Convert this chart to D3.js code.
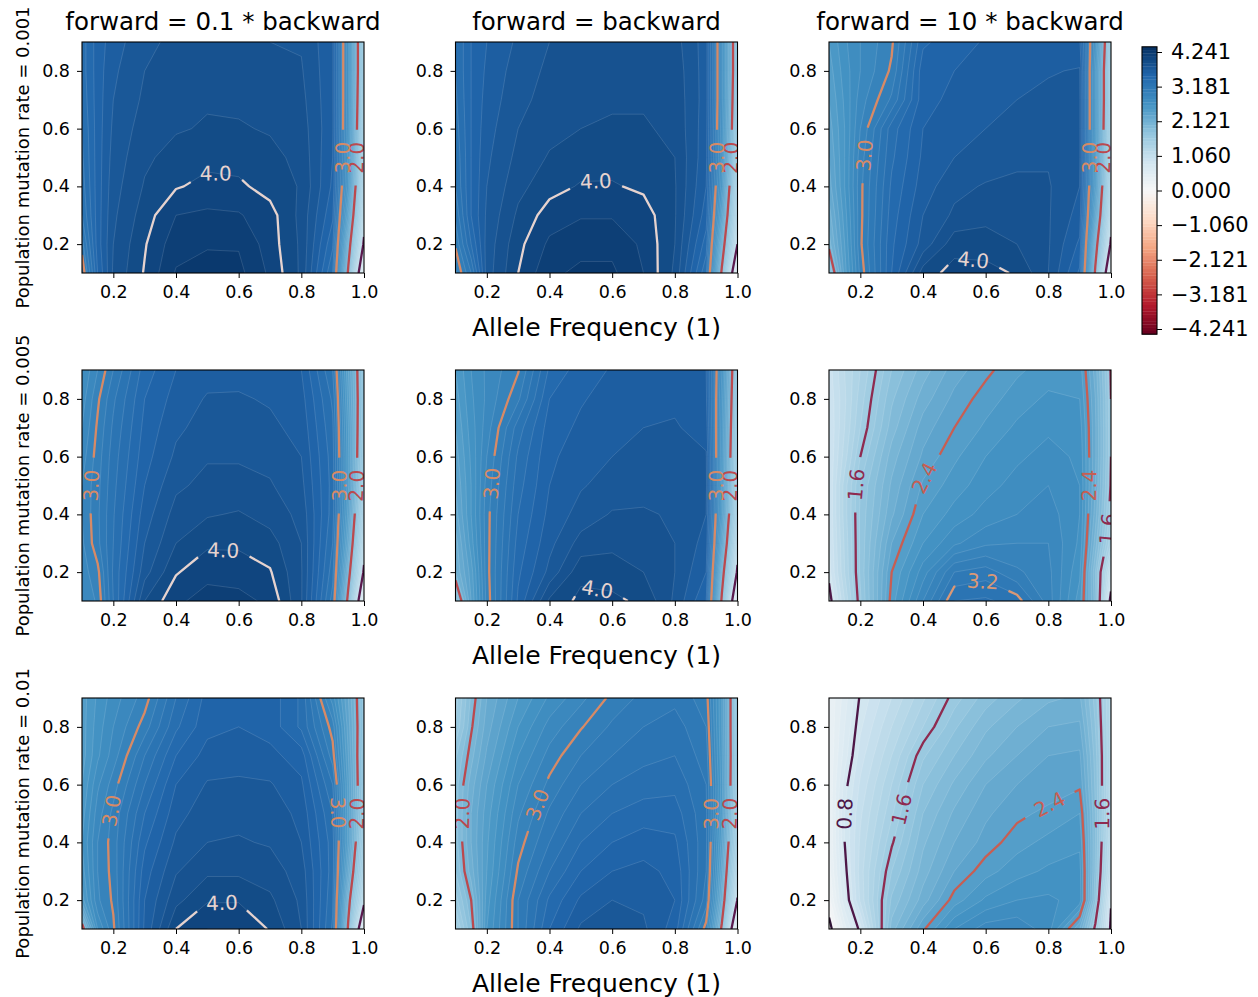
<!DOCTYPE html>
<html>
<head>
<meta charset="utf-8">
<script src="https://cdn.jsdelivr.net/npm/d3@7"></script>
<style>
body { margin: 0; background: #fff; }
text { font-family: "DejaVu Sans", sans-serif; }
</style>
</head>
<body>
<div id="chart"></div>
<script>
// simulation grid: allele frequency (columns) and mutation rate axis (rows, top to bottom)
var xs = [0.1, 0.15, 0.2, 0.3, 0.4, 0.5, 0.6, 0.7, 0.8, 0.9, 0.95, 1.0];
var ys = [0.9, 0.8, 0.7, 0.6, 0.5, 0.4, 0.3, 0.2, 0.1];

var colTitles = ["forward = 0.1 * backward", "forward = backward", "forward = 10 * backward"];
var rowLabels = ["Population mutation rate = 0.001", "Population mutation rate = 0.005", "Population mutation rate = 0.01"];
var xLabel = "Allele Frequency (1)";
var xTicks = [0.2, 0.4, 0.6, 0.8, 1.0];
var yTicks = [0.2, 0.4, 0.6, 0.8];
var cbTicks = [4.241, 3.181, 2.121, 1.060, 0.000, -1.060, -2.121, -3.181, -4.241];

// contour line levels of each panel (row by row)
var lineLevels = [
  [1, 2, 3, 4], [1, 2, 3, 4], [1, 2, 3, 4],
  [1, 2, 3, 4], [1, 2, 3, 4], [0.8, 1.6, 2.4, 3.2],
  [1, 2, 3, 4], [1, 2, 3], [0, 0.8, 1.6, 2.4]
];

// mu = 0.001
var z_001_f01 = [
  [3.35, 3.55, 3.65, 3.78, 3.82, 3.85, 3.85, 3.80, 3.79, 3.62, 2.70, 1.55],
  [3.35, 3.55, 3.68, 3.80, 3.84, 3.87, 3.86, 3.83, 3.81, 3.62, 2.70, 1.55],
  [3.33, 3.55, 3.70, 3.82, 3.86, 3.89, 3.88, 3.86, 3.83, 3.62, 2.70, 1.50],
  [3.30, 3.55, 3.72, 3.85, 3.89, 3.91, 3.91, 3.89, 3.85, 3.62, 2.68, 1.45],
  [3.28, 3.55, 3.74, 3.88, 3.94, 3.97, 3.96, 3.93, 3.87, 3.60, 2.65, 1.40],
  [3.25, 3.55, 3.76, 3.91, 3.99, 4.03, 4.02, 3.96, 3.89, 3.58, 2.60, 1.30],
  [3.20, 3.55, 3.78, 3.95, 4.10, 4.12, 4.11, 4.04, 3.87, 3.52, 2.40, 1.15],
  [3.06, 3.55, 3.80, 3.99, 4.16, 4.19, 4.19, 4.05, 3.88, 3.42, 2.15, 0.95],
  [2.90, 3.50, 3.82, 4.01, 4.21, 4.24, 4.23, 4.08, 3.88, 3.30, 1.95, 0.50]
];
var z_001_f1 = [
  [3.30, 3.50, 3.60, 3.72, 3.80, 3.84, 3.86, 3.86, 3.84, 3.65, 2.75, 1.70],
  [3.30, 3.50, 3.62, 3.75, 3.82, 3.86, 3.88, 3.88, 3.86, 3.65, 2.75, 1.70],
  [3.28, 3.50, 3.64, 3.77, 3.84, 3.87, 3.89, 3.89, 3.87, 3.65, 2.75, 1.65],
  [3.25, 3.50, 3.66, 3.80, 3.87, 3.90, 3.91, 3.91, 3.88, 3.64, 2.72, 1.60],
  [3.22, 3.50, 3.68, 3.83, 3.91, 3.95, 3.96, 3.95, 3.90, 3.63, 2.70, 1.50],
  [3.20, 3.50, 3.70, 3.87, 3.96, 4.01, 4.01, 3.98, 3.91, 3.60, 2.62, 1.35],
  [3.12, 3.50, 3.72, 3.92, 4.05, 4.09, 4.09, 4.05, 3.91, 3.55, 2.45, 1.20],
  [3.02, 3.40, 3.74, 3.97, 4.12, 4.17, 4.17, 4.08, 3.90, 3.45, 2.20, 1.00],
  [2.88, 3.20, 3.75, 4.00, 4.18, 4.22, 4.22, 4.10, 3.88, 3.32, 1.95, 0.50]
];
var z_001_f10 = [
  [2.50, 2.68, 2.80, 2.98, 3.48, 3.56, 3.61, 3.65, 3.67, 3.62, 2.70, 1.55],
  [2.45, 2.65, 2.80, 3.02, 3.56, 3.60, 3.64, 3.67, 3.69, 3.71, 2.60, 1.50],
  [2.40, 2.62, 2.85, 3.12, 3.56, 3.63, 3.67, 3.70, 3.73, 3.72, 2.60, 1.50],
  [2.35, 2.60, 2.90, 3.35, 3.60, 3.66, 3.70, 3.74, 3.77, 3.72, 2.60, 1.45],
  [2.30, 2.60, 2.95, 3.38, 3.62, 3.70, 3.74, 3.78, 3.79, 3.72, 2.58, 1.40],
  [2.25, 2.60, 2.97, 3.42, 3.65, 3.77, 3.81, 3.82, 3.81, 3.70, 2.55, 1.30],
  [2.15, 2.55, 2.97, 3.45, 3.70, 3.82, 3.86, 3.85, 3.81, 3.66, 2.40, 1.15],
  [2.05, 2.50, 2.98, 3.48, 3.74, 3.96, 3.96, 3.90, 3.81, 3.58, 2.15, 0.95],
  [1.75, 2.45, 2.93, 3.50, 3.95, 4.04, 4.03, 3.99, 3.80, 3.48, 1.95, 0.50]
];
// mu = 0.005
var z_005_f01 = [
  [2.70, 2.90, 3.10, 3.45, 3.60, 3.66, 3.67, 3.65, 3.60, 3.20, 2.40, 1.70],
  [2.75, 2.98, 3.18, 3.50, 3.64, 3.71, 3.71, 3.69, 3.64, 3.28, 2.45, 1.70],
  [2.80, 3.02, 3.22, 3.53, 3.68, 3.74, 3.74, 3.72, 3.67, 3.32, 2.50, 1.65],
  [2.85, 3.05, 3.25, 3.56, 3.72, 3.79, 3.79, 3.77, 3.70, 3.35, 2.52, 1.60],
  [2.90, 3.07, 3.27, 3.60, 3.78, 3.83, 3.83, 3.81, 3.73, 3.36, 2.52, 1.50],
  [2.90, 3.08, 3.29, 3.65, 3.84, 3.89, 3.91, 3.86, 3.77, 3.35, 2.45, 1.35],
  [2.88, 3.07, 3.30, 3.70, 3.90, 3.98, 3.98, 3.94, 3.80, 3.30, 2.32, 1.15],
  [2.85, 2.97, 3.32, 3.76, 3.99, 4.07, 4.06, 4.01, 3.81, 3.24, 2.12, 0.95],
  [2.80, 2.92, 3.30, 3.90, 4.08, 4.14, 4.13, 4.08, 3.81, 3.15, 1.90, 0.50]
];
var z_005_f1 = [
  [2.50, 2.70, 2.82, 2.99, 3.42, 3.55, 3.61, 3.64, 3.65, 3.60, 2.70, 1.65],
  [2.45, 2.68, 2.82, 3.08, 3.50, 3.59, 3.64, 3.66, 3.68, 3.62, 2.65, 1.60],
  [2.40, 2.65, 2.85, 3.25, 3.55, 3.62, 3.67, 3.70, 3.71, 3.66, 2.62, 1.55],
  [2.35, 2.62, 2.90, 3.32, 3.58, 3.65, 3.70, 3.73, 3.74, 3.71, 2.60, 1.50],
  [2.30, 2.60, 2.94, 3.36, 3.60, 3.69, 3.74, 3.77, 3.77, 3.72, 2.58, 1.45],
  [2.25, 2.60, 2.96, 3.40, 3.63, 3.74, 3.81, 3.81, 3.79, 3.70, 2.55, 1.35],
  [2.15, 2.55, 2.96, 3.44, 3.67, 3.84, 3.87, 3.85, 3.80, 3.66, 2.40, 1.15],
  [2.10, 2.45, 2.96, 3.48, 3.73, 3.97, 3.96, 3.90, 3.80, 3.60, 2.15, 0.95],
  [1.75, 2.40, 2.94, 3.52, 3.92, 4.03, 4.02, 3.98, 3.78, 3.50, 1.95, 0.50]
];
var z_005_f10 = [
  [0.95, 1.20, 1.40, 1.80, 2.05, 2.25, 2.37, 2.48, 2.55, 2.55, 2.15, 1.58],
  [0.92, 1.18, 1.45, 1.88, 2.15, 2.33, 2.45, 2.55, 2.62, 2.60, 2.20, 1.60],
  [0.90, 1.20, 1.50, 1.95, 2.25, 2.40, 2.52, 2.62, 2.68, 2.65, 2.22, 1.60],
  [0.90, 1.25, 1.60, 2.05, 2.32, 2.48, 2.60, 2.68, 2.74, 2.68, 2.22, 1.60],
  [0.90, 1.35, 1.70, 2.12, 2.42, 2.55, 2.66, 2.74, 2.80, 2.70, 2.20, 1.58],
  [0.90, 1.35, 1.72, 2.18, 2.50, 2.64, 2.74, 2.80, 2.85, 2.70, 2.15, 1.52],
  [0.88, 1.32, 1.72, 2.30, 2.60, 2.78, 2.88, 2.90, 2.90, 2.68, 2.05, 1.40],
  [0.85, 1.30, 1.72, 2.40, 2.75, 3.10, 3.15, 3.02, 2.93, 2.62, 1.90, 1.00],
  [0.72, 1.20, 1.68, 2.45, 2.90, 3.30, 3.32, 3.25, 2.95, 2.55, 1.95, 0.70]
];
// mu = 0.01
var z_01_f01 = [
  [2.45, 2.62, 2.75, 2.95, 3.30, 3.54, 3.58, 3.56, 3.38, 2.75, 2.30, 1.75],
  [2.45, 2.65, 2.80, 3.05, 3.38, 3.57, 3.60, 3.56, 3.38, 2.95, 2.35, 1.75],
  [2.45, 2.68, 2.85, 3.20, 3.50, 3.64, 3.65, 3.63, 3.55, 3.05, 2.40, 1.70],
  [2.50, 2.78, 2.95, 3.30, 3.60, 3.71, 3.72, 3.71, 3.62, 3.20, 2.45, 1.70],
  [2.55, 2.85, 3.03, 3.40, 3.66, 3.76, 3.77, 3.76, 3.67, 3.30, 2.45, 1.62],
  [2.60, 2.90, 3.05, 3.48, 3.72, 3.80, 3.81, 3.79, 3.70, 3.35, 2.45, 1.50],
  [2.55, 2.90, 3.04, 3.55, 3.79, 3.88, 3.88, 3.85, 3.75, 3.35, 2.30, 1.35],
  [2.45, 2.88, 3.02, 3.60, 3.87, 3.99, 3.99, 3.92, 3.78, 3.32, 2.10, 1.10],
  [1.90, 2.70, 2.98, 3.62, 4.00, 4.10, 4.10, 3.99, 3.80, 3.28, 1.95, 0.50]
];
var z_01_f1 = [
  [1.55, 1.92, 2.20, 2.50, 2.72, 2.87, 3.03, 3.13, 3.17, 3.05, 2.50, 1.60],
  [1.60, 1.98, 2.25, 2.60, 2.84, 2.99, 3.12, 3.20, 3.25, 3.10, 2.50, 1.60],
  [1.78, 2.06, 2.32, 2.70, 2.94, 3.10, 3.20, 3.27, 3.30, 3.15, 2.52, 1.60],
  [1.85, 2.15, 2.40, 2.80, 3.03, 3.20, 3.30, 3.35, 3.37, 3.20, 2.55, 1.55],
  [1.85, 2.20, 2.45, 2.88, 3.12, 3.30, 3.40, 3.45, 3.45, 3.22, 2.52, 1.50],
  [1.85, 2.20, 2.48, 2.95, 3.20, 3.40, 3.50, 3.55, 3.52, 3.22, 2.45, 1.40],
  [1.80, 2.15, 2.50, 3.02, 3.30, 3.50, 3.60, 3.63, 3.57, 3.20, 2.35, 1.20],
  [1.65, 2.00, 2.55, 3.10, 3.42, 3.62, 3.70, 3.68, 3.60, 3.15, 2.20, 0.98],
  [1.45, 1.90, 2.60, 3.10, 3.50, 3.72, 3.78, 3.72, 3.55, 2.95, 1.95, 0.40]
];
var z_01_f10 = [
  [0.30, 0.55, 0.82, 1.10, 1.38, 1.65, 1.85, 1.98, 2.08, 2.12, 1.75, 1.25],
  [0.30, 0.60, 0.88, 1.20, 1.50, 1.78, 1.98, 2.10, 2.20, 2.22, 1.80, 1.25],
  [0.30, 0.65, 0.95, 1.30, 1.68, 1.90, 2.08, 2.20, 2.30, 2.32, 1.85, 1.25],
  [0.30, 0.75, 1.02, 1.40, 1.80, 2.02, 2.20, 2.30, 2.33, 2.38, 1.88, 1.22],
  [0.30, 0.80, 1.08, 1.48, 1.90, 2.12, 2.28, 2.37, 2.43, 2.50, 1.90, 1.20],
  [0.28, 0.80, 1.12, 1.58, 1.98, 2.20, 2.34, 2.46, 2.53, 2.58, 1.90, 1.15],
  [0.25, 0.75, 1.15, 1.70, 2.05, 2.30, 2.46, 2.56, 2.62, 2.64, 1.88, 1.05],
  [0.15, 0.68, 1.12, 1.82, 2.15, 2.45, 2.62, 2.70, 2.72, 2.66, 1.82, 0.82],
  [-0.10, 0.45, 0.85, 1.95, 2.38, 2.70, 2.85, 2.87, 2.75, 2.20, 1.55, 0.75]
];

var panels = [z_001_f01, z_001_f1, z_001_f10,
              z_005_f01, z_005_f1, z_005_f10,
              z_01_f01, z_01_f1, z_01_f10];

// layout
var W = 282, H = 231;
var lefts = [82, 455.5, 829], tops = [42, 370, 698];
var nx = xs.length, ny = ys.length;

var fillLevels = d3.range(-44, 44).map(function(i) { return i / 10; });
var rdbu = d3.scaleLinear()
    .domain(d3.range(11).map(function(i) { return i / 10; }))
    .range(["#67001f", "#b2182b", "#d6604d", "#f4a582", "#fddbc7", "#f7f7f7",
            "#d1e5f0", "#92c5de", "#4393c3", "#2166ac", "#053061"]);
var norm = d3.scaleLinear().domain([-4.4, 4.4]).range([0, 1]);
function fillColor(t) { return rdbu(norm(t + 0.05)); }

var lineColor = d3.scaleLinear()
    .domain([0, 0.8, 1.0, 1.6, 2.0, 2.4, 3.0, 3.2, 4.0, 4.4])
    .range(["#2f1436", "#4d1747", "#5a1a4e", "#8e2b50", "#bb494e", "#c75e53",
            "#d78a66", "#da9876", "#e6d3cf", "#e2d9e2"]);

// grid index -> data value (grid can be uneven)
var gx = d3.scaleLinear().domain(d3.range(nx)).range(xs);
var gy = d3.scaleLinear().domain(d3.range(ny)).range(ys);
var fmt1 = d3.format(".1f");

var svg = d3.select("#chart").append("svg")
    .attr("width", 1258).attr("height", 997);

function onEdge(p) { return p[0] <= 0 || p[0] >= nx || p[1] <= 0 || p[1] >= ny; }

// cut a contour ring into open lines, dropping the parts on the outer frame
function splitRing(ring) {
  var pts = ring.slice(0, -1), n = pts.length;
  var start = pts.findIndex(onEdge);
  if (start < 0) return [ring.slice()];
  var segs = [], cur = [];
  for (var k = 1; k <= n; k++) {
    var p = pts[(start + k) % n];
    if (onEdge(p)) { if (cur.length > 1) segs.push(cur); cur = []; }
    else cur.push(p);
  }
  if (cur.length > 1) segs.push(cur);
  return segs;
}

function pointAt(pts, cum, s) {
  s = Math.max(0, Math.min(cum[cum.length - 1], s));
  var i = d3.bisectLeft(cum, s);
  if (i < 1) i = 1;
  if (i > pts.length - 1) i = pts.length - 1;
  var t = (s - cum[i - 1]) / ((cum[i] - cum[i - 1]) || 1);
  return [pts[i - 1][0] + t * (pts[i][0] - pts[i - 1][0]),
          pts[i - 1][1] + t * (pts[i][1] - pts[i - 1][1])];
}
function subPath(pts, cum, s0, s1) {
  var out = [pointAt(pts, cum, s0)];
  for (var i = 0; i < pts.length; i++) if (cum[i] > s0 && cum[i] < s1) out.push(pts[i]);
  out.push(pointAt(pts, cum, s1));
  return out;
}
var lineGen = d3.line();

panels.forEach(function(grid, k) {
  var r = Math.floor(k / 3), c = k % 3;
  var g = svg.append("g").attr("transform", "translate(" + lefts[c] + "," + tops[r] + ")");
  var x = d3.scaleLinear().domain([0.1, 1.0]).range([0, W]);
  var y = d3.scaleLinear().domain([0.1, 0.9]).range([H, 0]);
  var values = [].concat.apply([], grid);
  var proj = function(p) { return [x(gx(p[0] - 0.5)), y(gy(p[1] - 0.5))]; };

  g.append("clipPath").attr("id", "clip" + k)
    .append("rect").attr("width", W).attr("height", H);
  var inner = g.append("g").attr("clip-path", "url(#clip" + k + ")");

  // filled bands
  var bands = d3.contours().size([nx, ny]).thresholds(fillLevels)(values)
      .filter(function(d) { return d.coordinates.length; });
  inner.selectAll("path.band").data(bands).join("path")
      .attr("class", "band")
      .attr("d", function(d) {
        return d.coordinates.map(function(poly) {
          return poly.map(function(ring) { return lineGen(ring.map(proj)) + "Z"; }).join("");
        }).join("");
      })
      .attr("fill", function(d) { return fillColor(d.value); })
      .attr("fill-rule", "evenodd")
      .attr("stroke", "rgba(255,255,255,0.22)")
      .attr("stroke-width", 0.6);

  // contour lines with inline labels
  var lineG = inner.append("g"), labelG = inner.append("g");
  lineLevels[k].forEach(function(lv) {
    var mp = d3.contours().size([nx, ny]).thresholds([lv])(values)[0];
    var col = lineColor(lv);
    mp.coordinates.forEach(function(poly) {
      poly.forEach(function(ring) {
        splitRing(ring).forEach(function(seg) {
          var pts = seg.map(proj);
          var cum = [0];
          for (var i = 1; i < pts.length; i++)
            cum.push(cum[i - 1] + Math.hypot(pts[i][0] - pts[i - 1][0], pts[i][1] - pts[i - 1][1]));
          var total = cum[cum.length - 1];
          var label = labelG.append("text").text(fmt1(lv))
              .attr("font-size", 20).attr("fill", col)
              .attr("text-anchor", "middle").attr("dy", "0.36em");
          var lw = label.node().getComputedTextLength();
          var xe = d3.extent(pts, function(p) { return p[0]; }),
              ye = d3.extent(pts, function(p) { return p[1]; });
          var pieces = [pts];
          if (xe[1] - xe[0] > 1.2 * lw || ye[1] - ye[0] > 1.2 * lw) {
            var s = total / 2;
            var pc = pointAt(pts, cum, s), pa = pointAt(pts, cum, s - lw / 2), pb = pointAt(pts, cum, s + lw / 2);
            var ang = Math.atan2(pb[1] - pa[1], pb[0] - pa[0]) * 180 / Math.PI;
            if (ang > 90) ang -= 180;
            if (ang < -90) ang += 180;
            label.attr("transform", "translate(" + pc[0] + "," + pc[1] + ") rotate(" + ang + ")");
            var gap = lw + 24;
            pieces = [subPath(pts, cum, 0, s - gap / 2), subPath(pts, cum, s + gap / 2, total)];
          } else {
            label.remove();
          }
          pieces.forEach(function(pp) {
            lineG.append("path").attr("d", lineGen(pp))
              .attr("fill", "none").attr("stroke", col)
              .attr("stroke-width", 2.3).attr("stroke-linejoin", "round");
          });
        });
      });
    });
  });

  // frame
  g.append("rect").attr("width", W).attr("height", H)
    .attr("fill", "none").attr("stroke", "#000").attr("stroke-width", 1.1);

  // axes
  var xa = g.append("g").attr("transform", "translate(0," + H + ")")
    .call(d3.axisBottom(x).tickValues(xTicks).tickFormat(fmt1).tickSize(5).tickPadding(8));
  var ya = g.append("g")
    .call(d3.axisLeft(y).tickValues(yTicks).tickFormat(fmt1).tickSize(5).tickPadding(7));
  [xa, ya].forEach(function(a) {
    a.select(".domain").remove();
    a.attr("font-family", "DejaVu Sans").attr("font-size", 17.5);
    a.selectAll("text").attr("fill", "#000");
    a.selectAll("line").attr("stroke", "#000");
  });

  if (r === 0) {
    g.append("text").attr("x", W / 2).attr("y", -12)
      .attr("text-anchor", "middle").attr("font-size", 24.5).text(colTitles[c]);
  }
  if (c === 0) {
    g.append("text").attr("transform", "translate(" + (29 - lefts[0]) + "," + (H / 2) + ") rotate(-90)")
      .attr("text-anchor", "middle").attr("font-size", 18).text(rowLabels[r]);
  }
  if (c === 1) {
    g.append("text").attr("x", W / 2).attr("y", H + 63)
      .attr("text-anchor", "middle").attr("font-size", 25).text(xLabel);
  }
});

// colorbar
var cb = svg.append("g").attr("transform", "translate(1142,0)");
var cy = d3.scaleLinear().domain([-4.241, 4.241]).range([329, 52]);
cb.selectAll("rect.band").data(fillLevels).join("rect")
  .attr("class", "band")
  .attr("x", 0).attr("width", 15)
  .attr("y", function(t) { return cy(t + 0.1); })
  .attr("height", function(t) { return cy(t) - cy(t + 0.1) + 0.3; })
  .attr("fill", function(t) { return fillColor(t); });
cb.append("rect").attr("x", 0).attr("width", 15)
  .attr("y", cy(4.4)).attr("height", cy(-4.4) - cy(4.4))
  .attr("fill", "none").attr("stroke", "#000").attr("stroke-width", 1.1);
var cba = cb.append("g").attr("transform", "translate(15,0)")
  .call(d3.axisRight(cy).tickValues(cbTicks).tickFormat(d3.format(".3f")).tickSize(5).tickPadding(9));
cba.select(".domain").remove();
cba.attr("font-family", "DejaVu Sans").attr("font-size", 21);
cba.selectAll("text").attr("fill", "#000");
cba.selectAll("line").attr("stroke", "#000");
</script>
</body>
</html>
